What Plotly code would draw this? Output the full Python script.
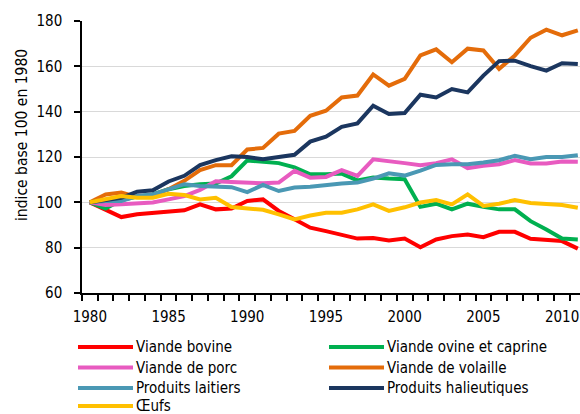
import plotly.graph_objects as go

years = list(range(1980, 2012))

names = ["Viande bovine", "Viande ovine et caprine", "Viande de porc",
         "Viande de volaille", "Produits laitiers", "Produits halieutiques", "Œufs"]
colors = ["#FF0000", "#00B050", "#E85BC0", "#E46C0A", "#4A98B4", "#1B365F", "#FFC000"]

bovine = [100, 96.6, 93.5, 94.7, 95.4, 95.9, 96.5, 99.1, 96.9, 97.3,
          100.6, 101.3, 96.2, 92.5, 88.8, 87.3, 85.8, 84.0, 84.3, 83.2,
          84.0, 80.2, 83.6, 85.1, 85.8, 84.6, 87.0, 87.0, 83.9, 83.6, 82.9, 79.6]
ovine = [100, 97.3, 101.0, 102.5, 103.5, 105.8, 107.2, 108.0, 108.3, 111.5,
         118.5, 118.0, 117.3, 115.4, 112.4, 112.4, 112.7, 109.7, 111.0, 110.5,
         110.2, 98.0, 99.4, 96.9, 99.4, 98.0, 96.9, 96.9, 91.7, 88.0, 84.0, 83.6]
porc = [100, 98.8, 99.1, 99.4, 99.9, 101.3, 102.8, 105.5, 109.3, 109.0,
        108.6, 108.4, 108.7, 113.9, 110.9, 111.2, 114.2, 111.7, 119.0, 118.3,
        117.3, 116.4, 117.3, 119.0, 115.1, 116.1, 116.8, 118.6, 117.1, 117.1, 118.0, 117.9]
volaille = [100, 103.5, 104.3, 102.4, 103.1, 105.8, 109.5, 114.2, 116.4, 116.4,
            123.3, 124.0, 130.3, 131.5, 138.2, 140.4, 146.3, 147.1, 156.4, 151.5,
            154.5, 164.8, 167.5, 161.8, 167.8, 167.0, 158.9, 164.8, 172.6, 176.2, 173.7, 175.9]
laitiers = [100, 100.6, 100.6, 102.8, 103.5, 105.8, 108.0, 107.2, 106.8, 106.7,
            104.5, 107.7, 105.0, 106.5, 106.9, 107.7, 108.3, 108.7, 110.5, 112.8,
            111.8, 114.0, 116.5, 116.8, 116.8, 117.6, 118.6, 120.5, 119.0, 120.0, 120.0, 120.8]
halieutiques = [100, 100.9, 102.0, 104.7, 105.3, 109.2, 111.7, 116.4, 118.6, 120.3,
                120.0, 119.0, 120.0, 121.0, 126.8, 129.0, 133.3, 134.8, 142.6, 139.0,
                139.4, 147.5, 146.3, 150.0, 148.5, 155.9, 162.3, 162.5, 160.1, 158.1, 161.4, 161.0]
oeufs = [100, 101.6, 102.8, 102.0, 102.0, 103.8, 103.2, 101.3, 102.0, 97.9,
         97.2, 96.7, 94.7, 92.5, 94.2, 95.4, 95.4, 96.9, 99.1, 96.2,
         97.8, 99.9, 101.0, 99.1, 103.5, 98.4, 99.4, 101.0, 99.7, 99.1, 98.8, 97.6]

series = [bovine, ovine, porc, volaille, laitiers, halieutiques, oeufs]

xtick_labels = [1980, 1985, 1990, 1995, 2000, 2005, 2010]
y_ticks = [60, 80, 100, 120, 140, 160, 180]

FONT = "DejaVu Sans Condensed, Liberation Sans Narrow, sans-serif"

W, H = 580, 414
L, R, T, B = 82, 0, 21, 121
pw, ph = W - L - R, H - T - B

fig = go.Figure()
for name, vals, col in zip(names, series, colors):
    fig.add_trace(go.Scatter(x=years, y=vals, mode="lines", name=name,
                             line=dict(color=col, width=4), showlegend=False))

# helpers: figure pixel -> paper coordinates
def px_x(p):
    return (p - L) / pw
def px_y(p):
    return (H - B - p) / ph

# manual legend (2 columns, row-major)
col_x = [78, 329]
row_y = [347, 367.5, 388, 406]
for i, (name, col) in enumerate(zip(names, colors)):
    r, c = divmod(i, 2)
    x0 = col_x[c]
    y0 = row_y[r]
    fig.add_shape(type="line", xref="paper", yref="paper",
                  x0=px_x(x0), x1=px_x(x0 + 55), y0=px_y(y0), y1=px_y(y0),
                  line=dict(color=col, width=4))
    fig.add_annotation(xref="paper", yref="paper", x=px_x(x0 + 57), y=px_y(y0),
                       text=name, showarrow=False, xanchor="left", yanchor="middle",
                       borderpad=0,
                       font=dict(family=FONT, size=15, color="#000000"))

fig.add_annotation(xref="paper", yref="paper", x=px_x(22), y=px_y(135),
                   text="indice base 100 en 1980", textangle=-90, showarrow=False,
                   xanchor="center", yanchor="middle",
                   font=dict(family=FONT, size=15.5, color="#000000"))

fig.update_layout(
    width=W, height=H,
    margin=dict(l=L, r=R, t=T, b=B, autoexpand=False),
    paper_bgcolor="white", plot_bgcolor="white",
    font=dict(family=FONT, size=15, color="#000000"),
    xaxis=dict(range=[1979.5, 1979.5 + pw / 15.74],
               tickmode="array", tickvals=xtick_labels,
               ticktext=[str(v) for v in xtick_labels],
               ticks="", showgrid=False, zeroline=False, automargin=False,
               showline=True, linecolor="black", linewidth=1.5,
               ticklabelstandoff=9, ticklabeloverflow="allow",
               minor=dict(tickmode="array",
                          tickvals=[y - 0.5 for y in years] + [years[-1] + 0.5],
                          ticks="outside", ticklen=6, tickcolor="black",
                          tickwidth=1.5, showgrid=False)),
    yaxis=dict(range=[60, 180], tickmode="array", tickvals=y_ticks,
               ticks="outside", ticklen=6, tickcolor="black", tickwidth=1.5,
               showline=True, linecolor="black", linewidth=1.5,
               showgrid=True, gridcolor="#D9D9D9", gridwidth=1.3,
               zeroline=False, ticklabelstandoff=9, automargin=False),
)

fig.write_html(
    "out.html",
    config={"displayModeBar": False},
    post_script="document.body.style.margin='0';document.body.style.overflow='hidden';",
)
